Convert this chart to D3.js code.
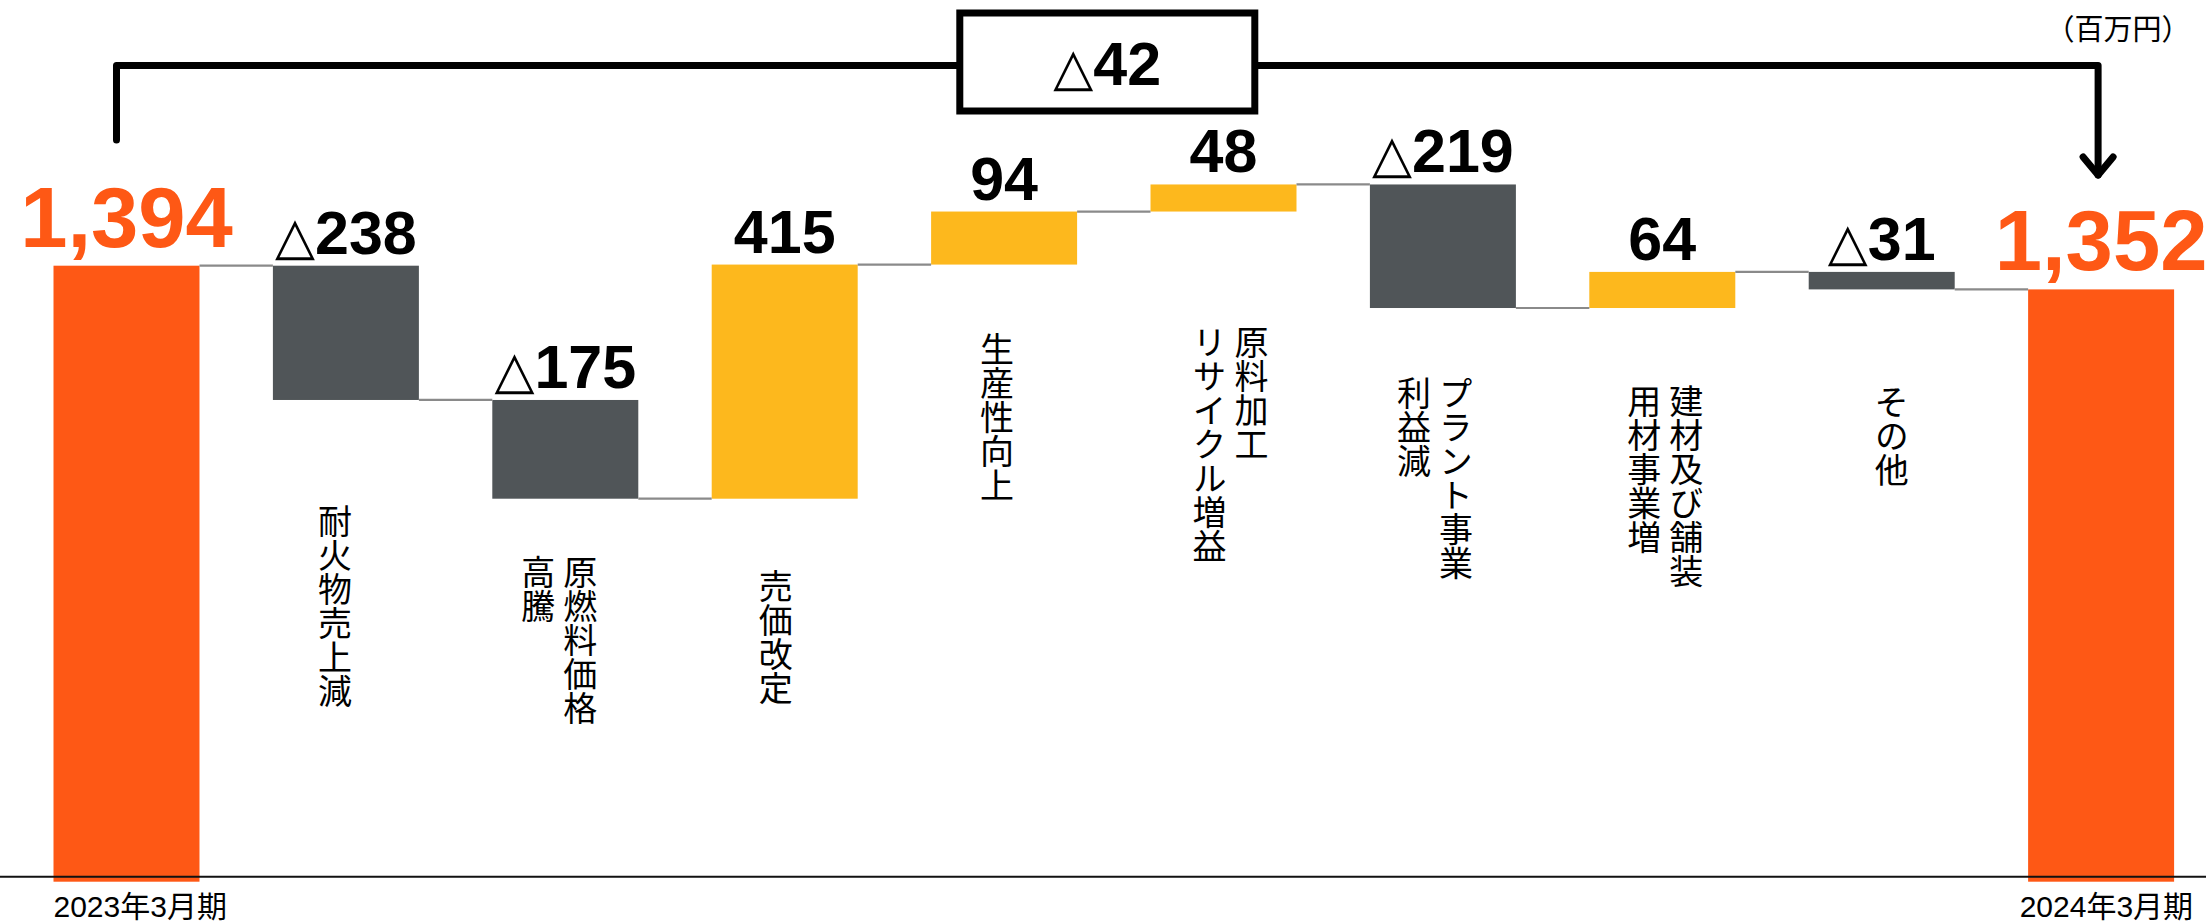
<!DOCTYPE html>
<html><head><meta charset="utf-8">
<script src="https://cdn.jsdelivr.net/npm/d3@7"></script>
<style>
html,body{margin:0;padding:0;background:#fff;}
svg{display:block;}
</style></head>
<body>
<svg id="chart" width="2206" height="923"></svg>
<script>
// ---- data ----
const categories = ["2023年3月期","耐火物売上減","原燃料価格高騰","売価改定","生産性向上","原料加工リサイクル増益","プラント事業利益減","建材及び舗装用材事業増","その他","2024年3月期"];
const labelLines = [[],["耐火物売上減"],["原燃料価格","高騰"],["売価改定"],["生産性向上"],["原料加工","リサイクル増益"],["プラント事業","利益減"],["建材及び舗装","用材事業増"],["その他"],[]];
const startValue = 1394;
const endValue = 1352;
const deltas = [-238,-175,415,94,48,-219,64,-31];
const totalChange = -42;
const unitLabel = "（百万円）";

// ---- layout (not data) ----
const labelTop = [0,504,555,569,332,325,376,384,385,0];
const labelShift = [0,-11,-6,-9,-7,7,-8,3,10,0];

const W = 2206, H = 923;
const svg = d3.select("#chart");
const ORANGE = "#FE5815", GRAY = "#505558", YELLOW = "#FDB81D", CONN = "#8a8a8a";

const x = d3.scaleBand().domain(categories).range([53.5, 2174.1]).paddingInner(0.3346).paddingOuter(0);
const y = d3.scaleLinear().domain([311, 1394]).range([876.7, 265.7]);
const axisY = y(311);

// build steps
const steps = [];
steps.push({cat:categories[0], type:"total", from:null, to:startValue, value:startValue});
let cum = startValue;
deltas.forEach((d,i)=>{
  steps.push({cat:categories[i+1], type:"delta", from:cum, to:cum+d, value:d});
  cum += d;
});
steps.push({cat:categories[categories.length-1], type:"total", from:null, to:endValue, value:endValue});

// bars
svg.append("g").selectAll("rect").data(steps).join("rect")
  .attr("x", d=>x(d.cat))
  .attr("width", x.bandwidth())
  .attr("y", d=> d.type==="total" ? y(d.to) : y(Math.max(d.from,d.to)))
  .attr("height", d=> d.type==="total" ? (axisY + 5 - y(d.to)) : Math.abs(y(d.from)-y(d.to)))
  .attr("fill", d=> d.type==="total" ? ORANGE : (d.value<0 ? GRAY : YELLOW));

// connectors
const conn = svg.append("g");
for(let i=0;i<steps.length-1;i++){
  const lvl = steps[i].to;
  conn.append("line")
    .attr("x1", x(steps[i].cat)+x.bandwidth()).attr("x2", x(steps[i+1].cat))
    .attr("y1", y(lvl)).attr("y2", y(lvl))
    .attr("stroke", CONN).attr("stroke-width", 2.2);
}

// value labels
const fmt = d3.format(",");
svg.append("g").selectAll("text").data(steps).join("text")
  .attr("x", d=>x(d.cat)+x.bandwidth()/2)
  .attr("y", d=> d.type==="total" ? y(d.to)-19 : y(Math.max(d.from,d.to))-12)
  .attr("text-anchor","middle")
  .attr("font-family","'Liberation Sans', Arial, 'DejaVu Sans', sans-serif")
  .attr("font-weight","bold")
  .attr("font-size", d=> d.type==="total" ? 85 : 61)
  .attr("fill", d=> d.type==="total" ? ORANGE : "#000")
  .each(function(d){
    const t = d3.select(this);
    if(d.type==="total"){ t.text(fmt(d.value)); }
    else if(d.value<0){
      t.append("tspan").attr("font-family","'DejaVu Sans', sans-serif").attr("font-weight","normal").attr("font-size",52).text("△");
      t.append("tspan").text(Math.abs(d.value));
    } else t.text(d.value);
  });

// category labels (vertical)
const lab = svg.append("g");
steps.forEach((d,i)=>{
  const lines = labelLines[i];
  if(!lines.length) return;
  const cx = x(d.cat)+x.bandwidth()/2 + labelShift[i];
  const colGap = 42;
  const n = lines.length;
  lines.forEach((ln,j)=>{
    const colX = cx + ((n-1)/2 - j)*colGap;
    lab.append("text")
      .attr("x", colX).attr("y", labelTop[i])
      .attr("style","writing-mode:vertical-rl; text-orientation:upright;")
      .attr("font-family","'Noto Sans CJK JP', sans-serif")
      .attr("font-size",34)
      .attr("fill","#000")
      .text(ln);
  });
});

// axis baseline
svg.append("line").attr("x1",0).attr("x2",W).attr("y1",axisY).attr("y2",axisY)
  .attr("stroke","#111").attr("stroke-width",2);

// bottom labels
const first = categories[0], last = categories[categories.length-1];
svg.append("text").attr("x", x(first)).attr("y", 916.5)
  .attr("font-family","'Liberation Sans','Noto Sans CJK JP', sans-serif").attr("font-size",30)
  .attr("text-anchor","start").text(first);
svg.append("text").attr("x", x(last)+x.bandwidth()+19).attr("y", 916.5)
  .attr("font-family","'Liberation Sans','Noto Sans CJK JP', sans-serif").attr("font-size",30)
  .attr("text-anchor","end").text(last);

// bracket annotation
const lx = x(first)+x.bandwidth()/2 - 10;
const rx = x(last)+x.bandwidth()/2 - 3;
const by = 65.5;
const boxW = 295, boxH = 98, boxCx = (lx+rx)/2, boxCy = 62;
const ann = svg.append("g").attr("stroke","#000").attr("stroke-width",7).attr("fill","none")
  .attr("stroke-linecap","round").attr("stroke-linejoin","round");
ann.append("path").attr("d", `M${lx},140 V${by} H${boxCx-boxW/2}`);
ann.append("path").attr("d", `M${boxCx+boxW/2},${by} H${rx} V175`);
ann.append("path").attr("d", `M${rx-15},157 L${rx},175 L${rx+15},157`);
ann.append("rect").attr("x",boxCx-boxW/2).attr("y",boxCy-boxH/2).attr("width",boxW).attr("height",boxH)
  .attr("stroke-linecap","butt").attr("stroke-linejoin","miter").attr("fill","#fff");
const tt = svg.append("text").attr("x",boxCx).attr("y",85).attr("text-anchor","middle")
  .attr("font-family","'Liberation Sans', Arial, sans-serif").attr("font-weight","bold").attr("font-size",61);
tt.append("tspan").attr("font-family","'DejaVu Sans', sans-serif").attr("font-weight","normal").attr("font-size",52).text("△");
tt.append("tspan").text(Math.abs(totalChange));

// unit
svg.append("text").attr("x",2118).attr("y",40).attr("text-anchor","middle")
  .attr("font-family","'Noto Sans CJK JP', sans-serif").attr("font-size",29).text(unitLabel);
</script>
</body></html>
